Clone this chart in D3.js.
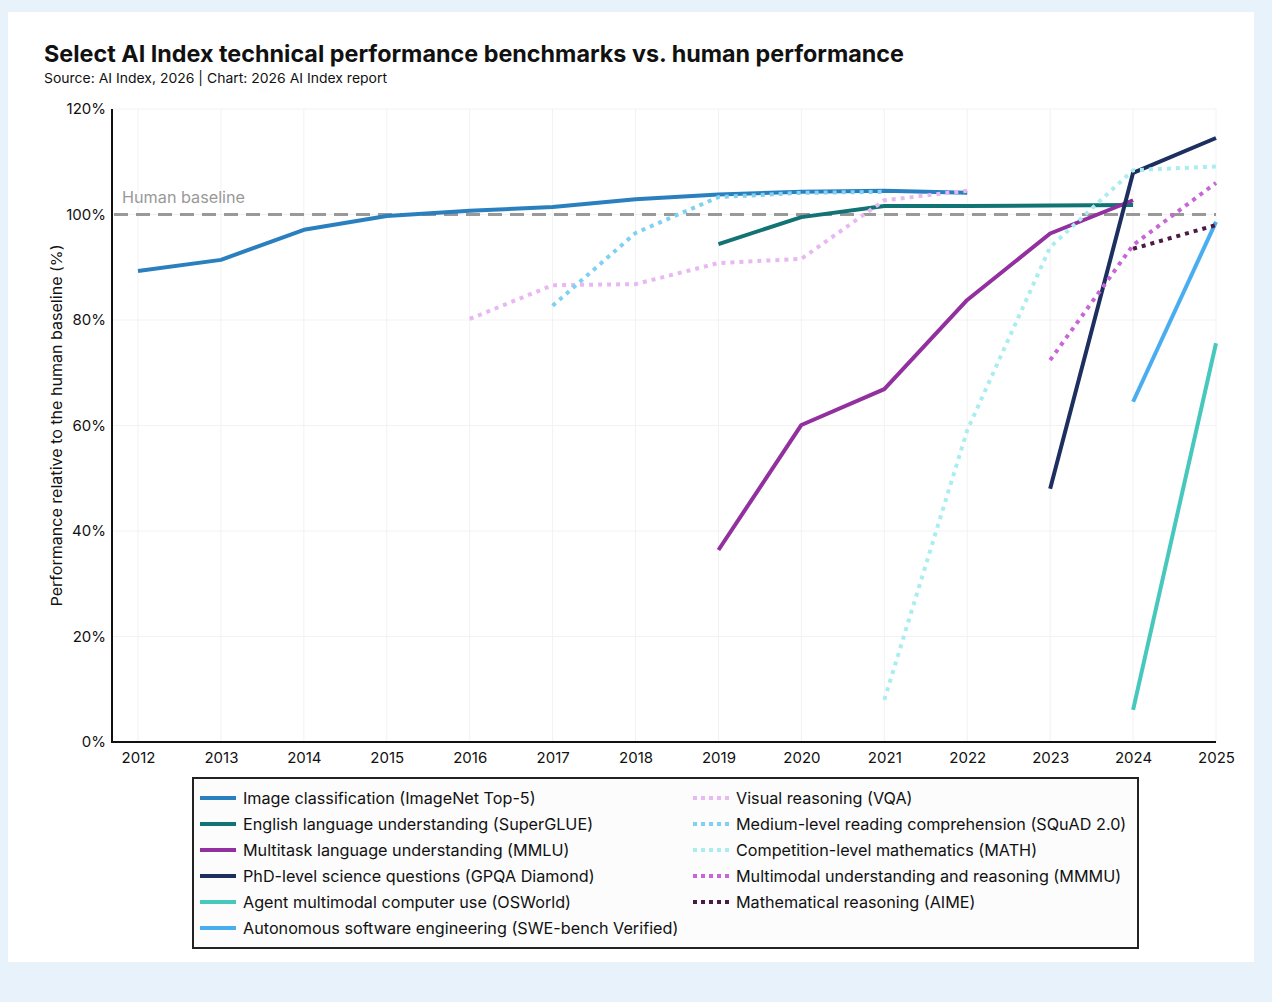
<!DOCTYPE html>
<html><head><meta charset="utf-8">
<script src="https://cdn.jsdelivr.net/npm/d3@7"></script>
<style>
html,body{margin:0;padding:0;background:#e8f2fa;}
svg{display:block;font-family:Inter,"Noto Sans",sans-serif;}
</style></head><body>
<svg id="c" width="1272" height="1002"></svg>
<script>
const years = [2012,2013,2014,2015,2016,2017,2018,2019,2020,2021,2022,2023,2024,2025];
const yTicks = [0,20,40,60,80,100,120];

const imagenetYears = [2012,2013,2014,2015,2016,2017,2018,2019,2020,2021,2022];
const imagenetVals  = [89.3,91.4,97.1,99.7,100.7,101.4,102.9,103.8,104.3,104.5,104.1];
const supergluYears = [2019,2020,2021,2022,2023,2024];
const supergluVals  = [94.4,99.5,101.6,101.6,101.7,101.8];
const mmluYears = [2019,2020,2021,2022,2023,2024];
const mmluVals  = [36.4,60.1,66.9,83.8,96.4,102.7];
const gpqaYears = [2023,2024,2025];
const gpqaVals  = [48.0,107.9,114.5];
const osworldYears = [2024,2025];
const osworldVals  = [6.1,75.6];
const swebenchYears = [2024,2025];
const swebenchVals  = [64.5,98.6];
const vqaYears = [2016,2017,2018,2019,2020,2021,2022];
const vqaVals  = [80.2,86.6,86.8,90.8,91.6,102.7,104.5];
const squadYears = [2017,2018,2019,2020,2021];
const squadVals  = [82.7,96.5,103.3,104.1,104.3];
const mathYears = [2021,2022,2023,2024,2025];
const mathVals  = [8.0,59.1,93.8,108.4,109.1];
const mmmuYears = [2023,2024,2025];
const mmmuVals  = [72.4,94.2,106.0];
const aimeYears = [2024,2025];
const aimeVals  = [93.5,98.0];

const series = [
  {name:"Image classification (ImageNet Top-5)", x:imagenetYears, y:imagenetVals, color:"#2a80bf", dotted:false},
  {name:"English language understanding (SuperGLUE)", x:supergluYears, y:supergluVals, color:"#117373", dotted:false},
  {name:"Multitask language understanding (MMLU)", x:mmluYears, y:mmluVals, color:"#91309e", dotted:false},
  {name:"PhD-level science questions (GPQA Diamond)", x:gpqaYears, y:gpqaVals, color:"#1c2f5f", dotted:false},
  {name:"Agent multimodal computer use (OSWorld)", x:osworldYears, y:osworldVals, color:"#47c8bc", dotted:false},
  {name:"Autonomous software engineering (SWE-bench Verified)", x:swebenchYears, y:swebenchVals, color:"#48aef0", dotted:false},
  {name:"Visual reasoning (VQA)", x:vqaYears, y:vqaVals, color:"#e8b8f3", dotted:true},
  {name:"Medium-level reading comprehension (SQuAD 2.0)", x:squadYears, y:squadVals, color:"#7fd1f1", dotted:true},
  {name:"Competition-level mathematics (MATH)", x:mathYears, y:mathVals, color:"#aaedf1", dotted:true},
  {name:"Multimodal understanding and reasoning (MMMU)", x:mmmuYears, y:mmmuVals, color:"#c866d8", dotted:true},
  {name:"Mathematical reasoning (AIME)", x:aimeYears, y:aimeVals, color:"#4b1a45", dotted:true}
];

const svg = d3.select("#c");
svg.append("rect").attr("x",8).attr("y",12).attr("width",1246).attr("height",950).attr("fill","#ffffff");

function fit(sel, w){ const n=sel.node(); const cur=n.getComputedTextLength(); if(cur>0) sel.attr("textLength",w).attr("lengthAdjust","spacingAndGlyphs"); }

const title = svg.append("text").attr("x",44).attr("y",62).attr("font-size",23).attr("font-weight",700).attr("fill","#111")
  .text("Select AI Index technical performance benchmarks vs. human performance");
fit(title, 860);
const sub = svg.append("text").attr("x",44).attr("y",83).attr("font-size",13.5).attr("fill","#111")
  .text("Source: AI Index, 2026 | Chart: 2026 AI Index report");
fit(sub, 343);

const x = d3.scaleLinear().domain([2012,2025]).range([138,1216]);
const y = d3.scaleLinear().domain([0,120]).range([742,109]);

const g = svg.append("g");
g.selectAll(".vg").data(years).join("line")
  .attr("x1",d=>x(d)).attr("x2",d=>x(d)).attr("y1",y(120)).attr("y2",y(0))
  .attr("stroke","#f2f2f2").attr("stroke-width",1);
g.selectAll(".hg").data(yTicks).join("line")
  .attr("x1",112).attr("x2",x(2025)).attr("y1",d=>y(d)).attr("y2",d=>y(d))
  .attr("stroke","#f2f2f2").attr("stroke-width",1);

const xAxis = d3.axisBottom(x).tickValues(years).tickFormat(d3.format("d")).tickSize(0).tickPadding(10);
const xg = svg.append("g").attr("transform",`translate(0,${y(0)})`).call(xAxis);
xg.select(".domain").remove();
xg.selectAll("text").attr("font-size",15).attr("fill","#111").attr("font-family","Inter,sans-serif");
svg.append("line").attr("x1",112).attr("x2",x(2025)).attr("y1",y(0)).attr("y2",y(0)).attr("stroke","#111").attr("stroke-width",2);

const yAxis = d3.axisLeft(y).tickValues(yTicks).tickFormat(d=>d+"%").tickSize(0).tickPadding(6);
const yg = svg.append("g").attr("transform","translate(112,0)").call(yAxis);
yg.select(".domain").remove();
yg.selectAll("text").attr("font-size",15).attr("fill","#111").attr("font-family","Inter,sans-serif");
svg.append("line").attr("x1",112).attr("x2",112).attr("y1",y(120)).attr("y2",y(0)+1).attr("stroke","#111").attr("stroke-width",2);

const yl = svg.append("text").attr("transform",`translate(62,${(y(0)+y(120))/2}) rotate(-90)`)
  .attr("text-anchor","middle").attr("font-size",15).attr("fill","#111")
  .text("Performance relative to the human baseline (%)");
fit(yl, 362);

svg.append("line").attr("x1",114).attr("x2",x(2025)).attr("y1",y(100)).attr("y2",y(100))
  .attr("stroke","#999").attr("stroke-width",3).attr("stroke-dasharray","14,8");
const hb = svg.append("text").attr("x",122).attr("y",y(100)-12).attr("font-size",15.5).attr("fill","#999").text("Human baseline");
fit(hb, 123);

const line = d3.line().x(d=>x(d[0])).y(d=>y(d[1]));
const lg = svg.append("g");
series.forEach((s)=>{
  const pts = s.x.map((v,i)=>[v,s.y[i]]);
  lg.append("path").datum(pts).attr("d",line).attr("fill","none")
    .attr("stroke",s.color).attr("stroke-width",4)
    .attr("stroke-dasharray",s.dotted?"4,5":null)
    .attr("stroke-linejoin","round");
});

const leg = svg.append("g");
leg.append("rect").attr("x",193).attr("y",778).attr("width",945).attr("height",170)
  .attr("fill","#fcfcfc").attr("stroke","#222").attr("stroke-width",2);
series.forEach((s,i)=>{
  const col = s.dotted ? 1 : 0;
  const row = s.dotted ? i-6 : i;
  const sx = col ? 693 : 200;
  const yy = 798 + row*26;
  leg.append("line").attr("x1",sx).attr("x2",sx+36).attr("y1",yy).attr("y2",yy)
    .attr("stroke",s.color).attr("stroke-width",4).attr("stroke-dasharray",s.dotted?"4,4":null);
  leg.append("text").attr("x",sx+43).attr("y",yy+5.5).attr("font-size",16.2).attr("fill","#111").text(s.name);
});
</script>
</body></html>
